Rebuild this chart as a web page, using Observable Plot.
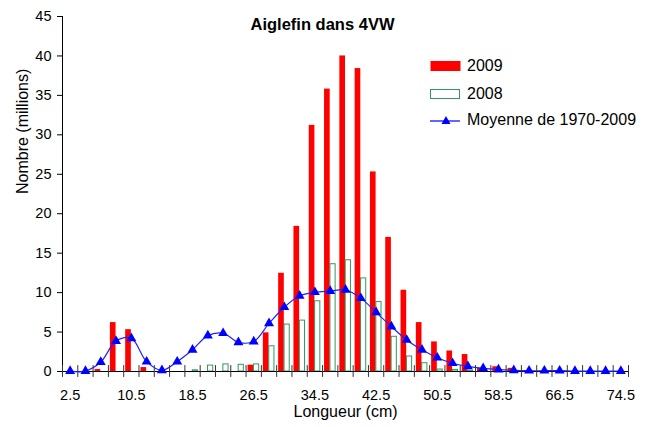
<!DOCTYPE html>
<html>
<head>
<meta charset="utf-8">
<script src="https://cdn.jsdelivr.net/npm/d3@7"></script>
<script src="https://cdn.jsdelivr.net/npm/@observablehq/plot@0.6"></script>
<style>
  html, body { margin: 0; padding: 0; background: #fff; }
  #wrap { position: relative; width: 665px; height: 427px; font-family: "Liberation Sans", Arial, sans-serif; }
  #title { position: absolute; left: 0; width: 645px; top: 15px; text-align: center; font-weight: bold; font-size: 16.5px; color: #000; }
  .leg { position: absolute; left: 430px; font-size: 16px; color: #000; display: flex; align-items: center; }
  .leg svg { margin-right: 6px; }
</style>
</head>
<body>
<div id="wrap">
  <div id="chart"></div>
  <div id="title">Aiglefin dans 4VW</div>
  <div class="leg" style="top:57px"><svg width="31" height="12"><rect x="0.5" y="1" width="30" height="10" fill="#ff0000"/></svg>2009</div>
  <div class="leg" style="top:85px"><svg width="31" height="12"><rect x="0.5" y="1.5" width="29" height="9" fill="none" stroke="#2e9a5e" stroke-width="1"/></svg>2008</div>
  <div class="leg" style="top:111px"><svg width="31" height="12"><line x1="0" y1="7" x2="30" y2="7" stroke="#3333ff" stroke-width="1.5"/><path d="M16,2 L20.5,10 L11.5,10 Z" fill="#0000ff"/></svg>Moyenne de 1970-2009</div>
</div>
<script>
const lengths = [2.5, 4.5, 6.5, 8.5, 10.5, 12.5, 14.5, 16.5, 18.5, 20.5, 22.5, 24.5, 26.5, 28.5, 30.5, 32.5, 34.5, 36.5, 38.5, 40.5, 42.5, 44.5, 46.5, 48.5, 50.5, 52.5, 54.5, 56.5, 58.5, 60.5, 62.5, 64.5, 66.5, 68.5, 70.5, 72.5, 74.5];
const values2009 = [0, 0, 0.25, 6.2, 5.3, 0.5, 0, 0, 0, 0, 0, 0, 0.8, 4.9, 12.45, 18.4, 31.2, 35.8, 40.0, 38.4, 25.3, 17.0, 10.3, 6.2, 3.75, 2.6, 2.15, 0.4, 0.6, 0.4, 0, 0, 0, 0, 0, 0, 0];
const values2008 = [0, 0, 0, 0, 0, 0, 0, 0, 0.15, 0.75, 0.9, 0.85, 0.9, 3.2, 5.95, 6.45, 8.9, 13.6, 14.1, 11.8, 8.8, 4.4, 1.9, 1.05, 0.25, 0.2, 0.1, 0, 0, 0, 0, 0, 0, 0, 0, 0, 0];
const valuesMean = [0.05, 0.05, 1.2, 3.85, 4.2, 1.25, 0.15, 1.25, 2.75, 4.55, 4.85, 3.7, 3.8, 6.1, 8.15, 9.6, 10.05, 10.2, 10.35, 9.3, 7.5, 5.7, 4.0, 2.75, 1.75, 1.05, 0.65, 0.4, 0.25, 0.15, 0.1, 0.1, 0.1, 0.05, 0.05, 0.05, 0.05];
const xTickLabels = [2.5, 10.5, 18.5, 26.5, 34.5, 42.5, 50.5, 58.5, 66.5, 74.5];
const yTicks = [0, 5, 10, 15, 20, 25, 30, 35, 40, 45];

const binWidth = 2;
const barFrac = 0.37;
const rows = lengths.map((L, i) => ({L, v09: values2009[i], v08: values2008[i], mean: valuesMean[i]}));
const boundaries = [lengths[0] - binWidth / 2, ...lengths.map(L => L + binWidth / 2)];
const xDomain = [boundaries[0], boundaries[boundaries.length - 1]];

const chart = Plot.plot({
  width: 665,
  height: 427,
  marginLeft: 62,
  marginRight: 37,
  marginTop: 16,
  marginBottom: 56,
  style: {fontFamily: "'Liberation Sans', Arial, sans-serif", fontSize: "14px", color: "#000", background: "#fff"},
  x: {domain: xDomain, label: null},
  y: {domain: [0, 45], label: null},
  marks: [
    Plot.rectY(rows.filter(d => d.v09 > 0), {x1: d => d.L - barFrac * binWidth, x2: d => d.L, y: "v09", fill: "#ff0000"}),
    Plot.rectY(rows.filter(d => d.v08 > 0), {x1: d => d.L + 0.03, x2: d => d.L + barFrac * binWidth - 0.03, y: "v08", fill: "none", stroke: "#2e9a5e", strokeWidth: 1}),
    Plot.ruleY([0], {stroke: "#000"}),
    Plot.ruleX([xDomain[0]], {stroke: "#000"}),
    Plot.ruleX(boundaries, {x: d => d, y1: -0.75, y2: 0.75, stroke: "#333"}),
    Plot.line(rows, {x: "L", y: "mean", stroke: "#2222ff", strokeWidth: 1.2, curve: "catmull-rom"}),
    Plot.dot(rows, {x: "L", y: "mean", symbol: "triangle", r: 3.7, fill: "#0000ff", stroke: "none"}),
    Plot.axisY({ticks: yTicks, tickSize: 5, tickPadding: 6, fontSize: 14.5, label: null}),
    Plot.axisX({ticks: xTickLabels, tickSize: 0, tickPadding: 18, fontSize: 14.5, label: null, tickFormat: d => d.toFixed(1)}),
    Plot.text(["Longueur (cm)"], {frameAnchor: "bottom", dy: 45, fontSize: 16}),
    Plot.text(["Nombre (millions)"], {frameAnchor: "left", dx: -40, rotate: -90, fontSize: 16})
  ]
});
document.getElementById("chart").appendChild(chart);
</script>
</body>
</html>
